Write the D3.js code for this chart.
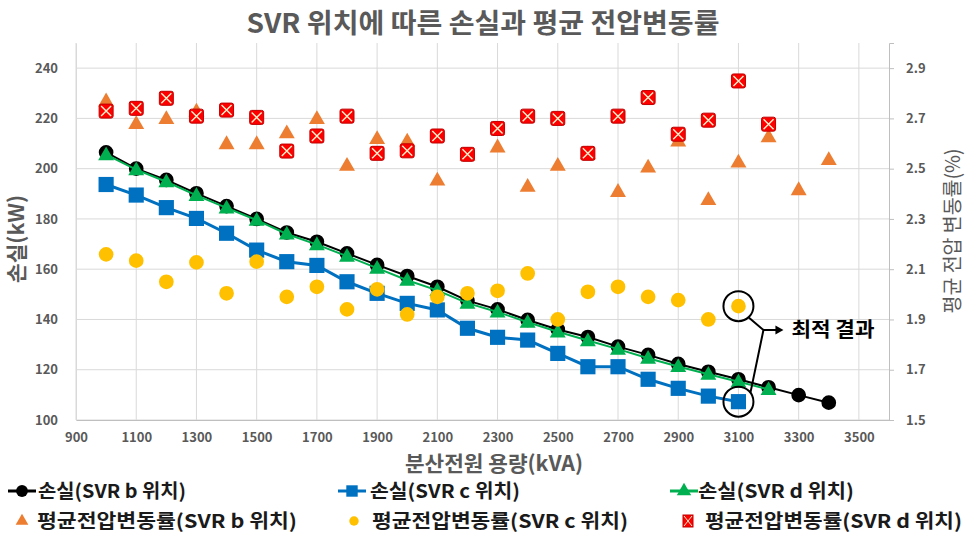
<!DOCTYPE html>
<html><head><meta charset="utf-8">
<script src="https://cdn.jsdelivr.net/npm/d3@7"></script>
<style>
body{margin:0;background:#fff;}
svg{display:block;font-family:"Noto Sans CJK KR","Noto Sans",sans-serif;}
</style></head>
<body><svg id="chart" width="966" height="539"></svg>
<script>
const xLoss = [1000,1100,1200,1300,1400,1500,1600,1700,1800,1900,2000,2100,2200,2300,2400,2500,2600,2700,2800,2900,3000,3100,3200,3300,3400];
const lossB = [206.5,200,195.5,190.2,185.1,180,174.6,170.9,166.3,161.7,157.3,153,147.5,144,139.8,136,133,129.2,125.9,122.3,119.2,116.2,113,109.9,106.9];
const lossC = [193.7,189.5,184.5,180.2,174.3,167.6,163,161.5,155,150.4,146.4,143.8,136.5,132.9,131.8,126.5,121.2,121.2,116.2,112.6,109.5,107.3];
const lossD = [205.6,199.6,194.8,189.4,184.4,179.5,174,169.8,165.2,160.4,155.6,151.6,146.5,143,138.9,135.1,131.6,128.2,124.6,121.3,118.2,115.2,112.2];
const voltB = [2.77,2.68,2.70,2.73,2.60,2.60,2.643,2.70,2.514,2.62,2.61,2.455,2.555,2.587,2.43,2.514,2.56,2.41,2.507,2.61,2.378,2.527,2.627,2.417,2.537];
const voltC = [2.159,2.134,2.05,2.127,2.004,2.13,1.99,2.03,1.94,2.02,1.92,1.99,2.004,2.014,2.083,1.90,2.01,2.03,1.99,1.977,1.90,1.953];
const voltD = [2.729,2.74,2.78,2.709,2.733,2.704,2.57,2.63,2.709,2.561,2.571,2.63,2.557,2.66,2.709,2.70,2.561,2.709,2.783,2.637,2.693,2.849,2.677];
const xTicks = [900,1100,1300,1500,1700,1900,2100,2300,2500,2700,2900,3100,3300,3500];
const yLeftTicks = [100,120,140,160,180,200,220,240];
const yRightTicks = [1.5,1.7,1.9,2.1,2.3,2.5,2.7,2.9];
const titleText = "SVR 위치에 따른 손실과 평균 전압변동률";
const xTitle = "분산전원 용량(kVA)";
const yLeftTitle = "손실(kW)";
const yRightTitle = "평균 전압 변동률(%)";
const seriesNames = ["손실(SVR b 위치)","손실(SVR c 위치)","손실(SVR d 위치)","평균전압변동률(SVR b 위치)","평균전압변동률(SVR c 위치)","평균전압변동률(SVR d 위치)"];
const annotationText = "최적 결과";

const svg = d3.select("#chart");
const L = 76, R = 889, T = 43, B = 420;
const x = d3.scaleLinear().domain([900,3600]).range([L,R]);
const yL = d3.scaleLinear().domain([100,250]).range([B,T]);
const yR = d3.scaleLinear().domain([1.5,3.0]).range([B,T]);
const gray = "#595959", grid = "#D9D9D9";

// gridlines
svg.append("g").selectAll("line").data(yLeftTicks).join("line")
  .attr("x1",L).attr("x2",R).attr("y1",d=>yL(d)).attr("y2",d=>yL(d))
  .attr("stroke",grid).attr("stroke-width",1);
svg.append("g").selectAll("line").data(xTicks).join("line")
  .attr("x1",d=>x(d)).attr("x2",d=>x(d)).attr("y1",T).attr("y2",B)
  .attr("stroke",grid).attr("stroke-width",1);
// axes
const gx = svg.append("g").attr("transform",`translate(0,${B})`)
  .call(d3.axisBottom(x).tickValues(xTicks).tickSize(0).tickPadding(13).tickFormat(d3.format("d")));
const gl = svg.append("g").attr("transform",`translate(${L},0)`)
  .call(d3.axisLeft(yL).tickValues(yLeftTicks).tickSize(0).tickPadding(18));
const gr = svg.append("g").attr("transform",`translate(${R},0)`)
  .call(d3.axisRight(yR).tickValues(yRightTicks).tickSize(5).tickPadding(12).tickFormat(d3.format(".1f")));
[gx,gl,gr].forEach(g=>{
  g.select(".domain").attr("stroke","#BFBFBF");
  g.selectAll(".tick line").attr("stroke","#BFBFBF");
  g.selectAll("text").attr("fill",gray).style("font-size","13px").style("font-weight","bold")
    .style("font-family","'Noto Sans CJK KR'");
});
gl.select(".domain").attr("stroke",grid);

// series
const colors = {b:"#000000", c:"#0070C0", d:"#00B050", vb:"#ED7D31", vc:"#FFC000", vd:"#FF0000"};
function lineSeries(xs, ys, color, w){
  svg.append("path").datum(ys.map((v,i)=>[xs[i],v]))
    .attr("fill","none").attr("stroke",color).attr("stroke-width",w)
    .attr("d", d3.line().x(d=>x(d[0])).y(d=>yL(d[1])));
}
const circ = d3.symbol().type(d3.symbolCircle);
const sq = d3.symbol().type(d3.symbolSquare);
const tri = d3.symbol().type(d3.symbolTriangle);
function markers(xs, ys, yScale, sym, size, fill, dy){
  svg.append("g").selectAll("path").data(ys).join("path")
    .attr("transform",(d,i)=>`translate(${x(xs[i])},${yScale(d)+(dy||0)})`)
    .attr("d", sym.size(size)()).attr("fill",fill);
}
lineSeries(xLoss, lossB, colors.b, 2);
markers(xLoss, lossB, yL, circ, 170, colors.b);
lineSeries(xLoss, lossC, colors.c, 3);
markers(xLoss, lossC, yL, sq, 230, colors.c);
lineSeries(xLoss, lossD, colors.d, 2);
markers(xLoss, lossD, yL, tri, 110, colors.d, 1);
markers(xLoss, voltB, yR, tri, 110, colors.vb, 1);
markers(xLoss, voltC, yR, circ, 170, colors.vc);
function xMarkers(xs, ys, yScale){
  const g = svg.append("g").selectAll("g").data(ys).join("g")
    .attr("transform",(d,i)=>`translate(${x(xs[i])},${yScale(d)})`);
  g.append("rect").attr("x",-7).attr("y",-7).attr("width",14).attr("height",14).attr("rx",2)
    .attr("fill",colors.vd).attr("stroke","#C00000").attr("stroke-width",1);
  g.append("path").attr("d","M-5,-5L5,5M-5,5L5,-5").attr("stroke","#FFF2CC").attr("stroke-width",1.4);
}
xMarkers(xLoss, voltD, yR);

// annotation
const ax = x(3100);
const c1 = yR(voltC[21]), c2 = yL(lossC[21]);
svg.append("circle").attr("cx",ax).attr("cy",c1).attr("r",15).attr("fill","none").attr("stroke","#000").attr("stroke-width",2);
svg.append("circle").attr("cx",ax).attr("cy",c2).attr("r",15).attr("fill","none").attr("stroke","#000").attr("stroke-width",2);
const jx = ax+25, jy = 330;
svg.append("path").attr("d",`M${ax+10},${c1+11}L${jx},${jy}L${ax+12},${c2-9}`).attr("fill","none").attr("stroke","#000").attr("stroke-width",2);
svg.append("line").attr("x1",jx).attr("y1",jy).attr("x2",jx+14).attr("y2",jy).attr("stroke","#000").attr("stroke-width",2);
svg.append("path").attr("d",`M${jx+20},${jy}L${jx+12},${jy-4.5}L${jx+12},${jy+4.5}Z`).attr("fill","#000");
svg.append("text").attr("x",jx+28).attr("y",jy+7).text(annotationText)
  .attr("textLength",83).attr("lengthAdjust","spacingAndGlyphs")
  .style("font-size","20px").style("font-weight","bold").attr("fill","#000");

// titles
svg.append("text").attr("x",483).attr("y",33).attr("text-anchor","middle").text(titleText)
  .attr("textLength",473).attr("lengthAdjust","spacingAndGlyphs")
  .style("font-size","27px").style("font-weight","bold").attr("fill",gray);
svg.append("text").attr("x",494).attr("y",471).attr("text-anchor","middle").text(xTitle)
  .attr("textLength",178).attr("lengthAdjust","spacingAndGlyphs")
  .style("font-size","21px").style("font-weight","bold").attr("fill",gray);
svg.append("text").attr("transform","translate(24,239) rotate(-90)").attr("text-anchor","middle").text(yLeftTitle)
  .attr("textLength",88).attr("lengthAdjust","spacingAndGlyphs")
  .style("font-size","21px").style("font-weight","bold").attr("fill",gray);
svg.append("text").attr("transform","translate(960,231) rotate(-90)").attr("text-anchor","middle").text(yRightTitle)
  .attr("textLength",165).attr("lengthAdjust","spacingAndGlyphs")
  .style("font-size","20px").style("font-weight","normal").attr("fill",gray);

// legend
const legendItems = [
  {name:seriesNames[0], type:"line", color:colors.b, sym:circ, size:110, lx:8, tx:38, w:148, y:491},
  {name:seriesNames[1], type:"line", color:colors.c, sym:sq, size:130, lx:338, tx:370, w:150, y:491},
  {name:seriesNames[2], type:"line", color:colors.d, sym:tri, size:90, lx:670, tx:698, w:156, y:491},
  {name:seriesNames[3], type:"pt", color:colors.vb, sym:tri, size:70, lx:8, tx:37, w:260, y:521},
  {name:seriesNames[4], type:"pt", color:colors.vc, sym:circ, size:70, lx:340, tx:372, w:256, y:521},
  {name:seriesNames[5], type:"x", color:colors.vd, lx:674, tx:705, w:257, y:521}
];
legendItems.forEach(it=>{
  const g = svg.append("g");
  const cx = it.lx + 14;
  if(it.type==="line"){
    g.append("line").attr("x1",it.lx).attr("x2",it.lx+28).attr("y1",it.y).attr("y2",it.y).attr("stroke",it.color).attr("stroke-width",3);
  }
  if(it.type==="x"){
    g.append("rect").attr("x",cx-5).attr("y",it.y-6).attr("width",10).attr("height",12).attr("fill",it.color).attr("stroke","#C00000");
    g.append("path").attr("d",`M${cx-4},${it.y-5}L${cx+4},${it.y+5}M${cx-4},${it.y+5}L${cx+4},${it.y-5}`).attr("stroke","#FFF2CC").attr("stroke-width",1);
  } else {
    g.append("path").attr("transform",`translate(${cx},${it.y})`).attr("d",it.sym.size(it.size)()).attr("fill",it.color);
  }
  g.append("text").attr("x",it.tx).attr("y",it.y+7).text(it.name)
    .attr("textLength",it.w).attr("lengthAdjust","spacingAndGlyphs")
    .style("font-size","19px").style("font-weight","bold").attr("fill","#1a1a1a");
});
</script></body></html>
